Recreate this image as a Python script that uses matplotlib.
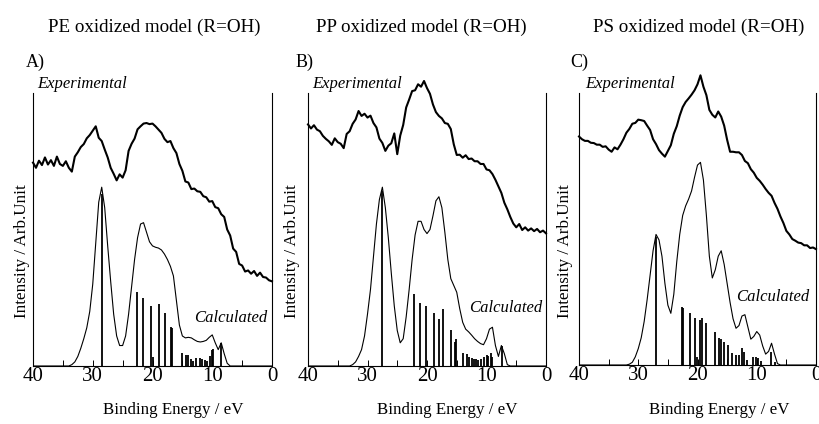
import matplotlib
matplotlib.use("Agg")
import matplotlib.pyplot as plt
from matplotlib.ticker import MultipleLocator, NullFormatter

plt.rcParams['font.family'] = ['Liberation Serif', 'DejaVu Serif']

# binding energy grid (eV), 40 -> 0
energy = [40.0, 39.5, 39.0, 38.5, 38.0, 37.5, 37.0, 36.5, 36.0, 35.5,
          35.0, 34.5, 34.0, 33.5, 33.0, 32.5, 32.0, 31.5, 31.0, 30.5,
          30.0, 29.5, 29.0, 28.5, 28.0, 27.5, 27.0, 26.5, 26.0, 25.5,
          25.0, 24.5, 24.0, 23.5, 23.0, 22.5, 22.0, 21.5, 21.0, 20.5,
          20.0, 19.5, 19.0, 18.5, 18.0, 17.5, 17.0, 16.5, 16.0, 15.5,
          15.0, 14.5, 14.0, 13.5, 13.0, 12.5, 12.0, 11.5, 11.0, 10.5,
          10.0, 9.5, 9.0, 8.5, 8.0, 7.5, 7.0, 6.5, 6.0, 5.5,
          5.0, 4.5, 4.0, 3.5, 3.0, 2.5, 2.0, 1.5, 1.0, 0.5, 0.0]

# experimental spectra (normalised to axes height)
exp_A = [0.745, 0.726, 0.752, 0.736, 0.764, 0.738, 0.754, 0.733, 0.767, 0.740,
         0.733, 0.750, 0.726, 0.712, 0.767, 0.783, 0.802, 0.813, 0.834, 0.846,
         0.862, 0.878, 0.836, 0.824, 0.793, 0.764, 0.726, 0.704, 0.680, 0.702,
         0.690, 0.717, 0.788, 0.814, 0.833, 0.867, 0.878, 0.888, 0.890, 0.886,
         0.888, 0.878, 0.866, 0.854, 0.832, 0.820, 0.824, 0.798, 0.780, 0.740,
         0.715, 0.676, 0.672, 0.648, 0.650, 0.640, 0.638, 0.622, 0.618, 0.602,
         0.604, 0.582, 0.578, 0.556, 0.546, 0.500, 0.478, 0.430, 0.418, 0.374,
         0.368, 0.346, 0.350, 0.338, 0.348, 0.330, 0.342, 0.326, 0.324, 0.314, 0.310]

exp_B = [0.885, 0.870, 0.882, 0.866, 0.860, 0.843, 0.832, 0.823, 0.810, 0.834,
         0.820, 0.814, 0.798, 0.850, 0.860, 0.887, 0.903, 0.934, 0.916, 0.924,
         0.910, 0.917, 0.890, 0.874, 0.833, 0.817, 0.788, 0.807, 0.816, 0.852,
         0.776, 0.844, 0.883, 0.947, 0.976, 1.007, 1.010, 1.032, 1.023, 1.044,
         1.018, 0.997, 0.958, 0.930, 0.916, 0.907, 0.890, 0.887, 0.868, 0.812,
         0.773, 0.774, 0.763, 0.772, 0.758, 0.760, 0.750, 0.750, 0.740, 0.740,
         0.720, 0.717, 0.703, 0.682, 0.658, 0.634, 0.598, 0.574, 0.546, 0.522,
         0.508, 0.520, 0.498, 0.508, 0.496, 0.504, 0.494, 0.502, 0.490, 0.496, 0.486]

exp_C = [0.840, 0.830, 0.824, 0.824, 0.817, 0.816, 0.810, 0.810, 0.802, 0.804,
         0.792, 0.784, 0.800, 0.793, 0.810, 0.830, 0.854, 0.868, 0.887, 0.890,
         0.902, 0.900, 0.897, 0.880, 0.864, 0.830, 0.812, 0.790, 0.777, 0.766,
         0.787, 0.808, 0.850, 0.878, 0.917, 0.948, 0.967, 0.980, 0.994, 1.010,
         1.032, 1.065, 1.023, 0.992, 0.938, 0.920, 0.910, 0.932, 0.913, 0.880,
         0.828, 0.784, 0.784, 0.782, 0.782, 0.772, 0.750, 0.742, 0.720, 0.707,
         0.688, 0.677, 0.663, 0.647, 0.633, 0.622, 0.596, 0.574, 0.546, 0.522,
         0.493, 0.480, 0.463, 0.457, 0.450, 0.448, 0.440, 0.440, 0.430, 0.432, 0.426]

# calculated (broadened) spectra
calc_A = [0, 0, 0, 0, 0, 0, 0, 0, 0, 0,
          0, 0, 0, 0.005, 0.015, 0.035, 0.065, 0.10, 0.14, 0.20,
          0.30, 0.45, 0.60, 0.655, 0.58, 0.44, 0.31, 0.19, 0.11, 0.075,
          0.075, 0.11, 0.19, 0.29, 0.39, 0.47, 0.52, 0.525, 0.49, 0.455,
          0.44, 0.435, 0.432, 0.425, 0.41, 0.39, 0.365, 0.33, 0.24, 0.15,
          0.11, 0.103, 0.105, 0.103, 0.096, 0.09, 0.088, 0.09, 0.094, 0.105,
          0.114, 0.085, 0.06, 0.085, 0.045, 0.01, 0, 0, 0, 0,
          0, 0, 0, 0, 0, 0, 0, 0, 0, 0, 0]

calc_B = [0, 0, 0, 0, 0, 0, 0, 0, 0, 0,
          0, 0, 0, 0, 0, 0.005, 0.015, 0.035, 0.06, 0.11,
          0.19, 0.28, 0.40, 0.52, 0.61, 0.655, 0.58, 0.47, 0.34, 0.22,
          0.13, 0.085, 0.10, 0.18, 0.28, 0.39, 0.48, 0.53, 0.53, 0.50,
          0.485, 0.50, 0.55, 0.605, 0.62, 0.58, 0.49, 0.39, 0.32, 0.295,
          0.27, 0.21, 0.16, 0.135, 0.125, 0.113, 0.10, 0.09, 0.082, 0.078,
          0.10, 0.135, 0.142, 0.075, 0.035, 0.075, 0.045, 0.005, 0, 0,
          0, 0, 0, 0, 0, 0, 0, 0, 0, 0, 0]

calc_C = [0, 0, 0, 0, 0, 0, 0, 0, 0, 0,
          0, 0, 0, 0, 0, 0, 0, 0.003, 0.01, 0.03,
          0.06, 0.10, 0.16, 0.24, 0.33, 0.42, 0.48, 0.46, 0.40, 0.30,
          0.22, 0.19, 0.26, 0.38, 0.48, 0.55, 0.585, 0.61, 0.64, 0.69,
          0.735, 0.745, 0.68, 0.55, 0.40, 0.32, 0.35, 0.40, 0.42, 0.37,
          0.30, 0.23, 0.17, 0.135, 0.145, 0.18, 0.185, 0.14, 0.095, 0.105,
          0.123, 0.11, 0.07, 0.04, 0.05, 0.08, 0.04, 0.005, 0, 0,
          0, 0, 0, 0, 0, 0, 0, 0, 0, 0, 0]

# stick spectra: orbital energies and intensities
stick_pos_A = [28.5, 22.65, 21.65, 20.3, 20.0, 18.9, 17.95, 16.9, 16.75, 15.05, 14.4, 14.0,
               13.6, 13.2, 12.75, 12.05, 11.75, 11.2, 10.8, 10.4, 10.1, 9.8, 8.55]
stick_h_A = [0.63, 0.272, 0.248, 0.22, 0.032, 0.227, 0.195, 0.144, 0.14, 0.046, 0.040, 0.041,
             0.026, 0.02, 0.03, 0.03, 0.026, 0.022, 0.017, 0.037, 0.059, 0.063, 0.085]

stick_pos_B = [27.6, 22.2, 21.2, 20.2, 18.9, 18.0, 17.25, 15.9, 15.35, 15.1, 13.9, 13.3,
               13.0, 12.5, 12.1, 11.8, 11.4, 11.0, 10.5, 10.0, 9.75, 9.3, 9.0, 7.35]
stick_h_B = [0.64, 0.264, 0.229, 0.22, 0.193, 0.171, 0.208, 0.132, 0.089, 0.10, 0.049, 0.044,
             0.034, 0.029, 0.025, 0.027, 0.022, 0.025, 0.034, 0.039, 0.037, 0.049, 0.034, 0.073]

stick_pos_C = [27.0, 22.6, 22.5, 21.35, 20.5, 20.05, 19.65, 19.2, 18.55, 17.0, 16.4, 16.05,
               15.45, 14.9, 14.2, 13.5, 12.95, 12.5, 12.1, 11.7, 10.6, 10.15, 9.75, 9.3, 7.6, 7.0]
stick_h_C = [0.47, 0.214, 0.21, 0.192, 0.171, 0.03, 0.165, 0.171, 0.153, 0.122, 0.098, 0.094,
             0.085, 0.074, 0.043, 0.037, 0.037, 0.061, 0.049, 0.018, 0.028, 0.03, 0.025, 0.016, 0.049, 0.012]

titles = ["PE oxidized model (R=OH)", "PP oxidized model (R=OH)", "PS oxidized model (R=OH)"]
labels = ["A)", "B)", "C)"]

panels = [
    (exp_A, calc_A, stick_pos_A, stick_h_A),
    (exp_B, calc_B, stick_pos_B, stick_h_B),
    (exp_C, calc_C, stick_pos_C, stick_h_C),
]

W, H = 819, 424
fig = plt.figure(figsize=(W / 100, H / 100), dpi=100)

# axes placement in pixels: left, right, bottom, top
boxes = [(33, 272, 366, 93), (308, 546, 366, 93), (579, 816, 365, 93)]
title_x = [154, 421, 699]
label_x = [26, 296, 570]
exp_x = [37, 312, 585]
calc_xy = [(267, 318), (542, 308), (809, 297)]
ylab_x = [22, 292, 565]
xlab_x = [173, 447, 719]


def fx(px):
    return px / W


def fy(py):
    return 1 - py / H


for i, (exp, calc, spos, sh) in enumerate(panels):
    l, r, b, t = boxes[i]
    ax = fig.add_axes([fx(l), fy(b), (r - l) / W, (b - t) / H])
    ax.plot(energy, exp, color='black', lw=1.5, clip_on=False)
    ax.plot(energy, calc, color='black', lw=0.8)
    ax.vlines(spos, 0, sh, color='black', lw=1.3)

    ax.set_xlim(40, 0)
    ax.set_ylim(0, 1)
    ax.spines['top'].set_visible(False)
    for s in ['left', 'right', 'bottom']:
        ax.spines[s].set_linewidth(0.8)
    ax.set_yticks([])
    ax.xaxis.set_major_locator(MultipleLocator(10))
    ax.xaxis.set_minor_locator(MultipleLocator(5))
    ax.xaxis.set_minor_formatter(NullFormatter())
    ax.tick_params(axis='x', which='both', direction='in', length=4, width=0.7,
                   labelsize=15, pad=1)

    fig.text(fx(title_x[i]), fy(27), titles[i], ha='center', va='center', fontsize=13.7)
    fig.text(fx(label_x[i]), fy(62), labels[i], ha='left', va='center', fontsize=13)
    fig.text(fx(exp_x[i]), fy(84), "Experimental", ha='left', va='center',
             fontsize=12, style='italic')
    cx, cy = calc_xy[i]
    fig.text(fx(cx), fy(cy), "Calculated", ha='right', va='center',
             fontsize=12, style='italic')
    fig.text(fx(ylab_x[i]), fy(251), "Intensity / Arb.Unit", ha='center', va='center',
             rotation=90, fontsize=12.3)
    fig.text(fx(xlab_x[i]), fy(410), "Binding Energy / eV", ha='center', va='center',
             fontsize=12.2)

fig.savefig("out.png", dpi=100)
